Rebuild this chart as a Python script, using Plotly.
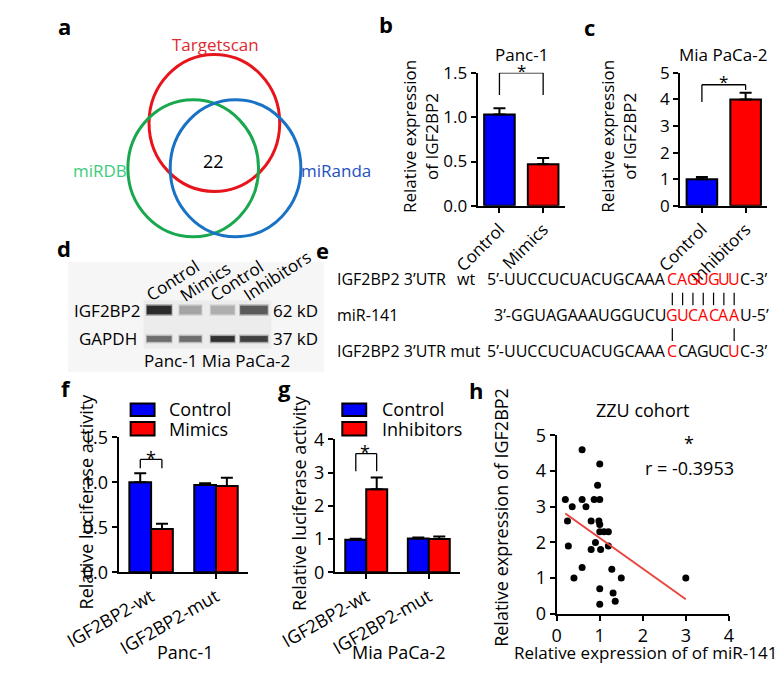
import numpy as np
import plotly.graph_objects as go

W, H = 778, 673
FONT = "Open Sans"
BLUE = "#0000ff"
RED = "#ff0000"

# ---------------- data ----------------
venn_sets = ["Targetscan", "miRDB", "miRanda"]
venn_colors_line = ["#e8141c", "#1aa84f", "#1a72c4"]
venn_colors_text = ["#e02a30", "#3ccb7c", "#2250c0"]
venn_common = "22"

b_categories = ["Control", "Mimics"]
b_values = [1.03, 0.47]
b_errors = [0.07, 0.07]

c_categories = ["Control", "Inhibitors"]
c_values = [1.00, 4.00]
c_errors = [0.08, 0.25]

blot_lanes = ["Control", "Mimics", "Control", "Inhibitors"]
blot_igf2bp2 = [0.95, 0.35, 0.30, 0.72]
blot_gapdh = [0.62, 0.62, 0.92, 0.85]

seq_names = ["IGF2BP2 3\u2019UTR", "miR-141", "IGF2BP2 3\u2019UTR mut"]
seq_pre = ["5\u2019-UUCCUCUACUGCAAA", "3\u2019-GGUAGAAAUGGUCU", "5\u2019-UUCCUCUACUGCAAA"]
seq_seed = ["CAGUGUU", "GUCACAA", "CCAGUCU"]
seq_seed_red = [[1, 1, 1, 1, 1, 1, 1], [1, 1, 1, 1, 1, 1, 1], [1, 0, 0, 0, 0, 0, 1]]
seq_post = ["C-3\u2019", "U-5\u2019", "C-3\u2019"]

f_groups = ["IGF2BP2-wt", "IGF2BP2-mut"]
f_control = [1.00, 0.97]
f_control_err = [0.10, 0.02]
f_mimics = [0.48, 0.96]
f_mimics_err = [0.06, 0.09]

g_groups = ["IGF2BP2-wt", "IGF2BP2-mut"]
g_control = [0.98, 1.02]
g_control_err = [0.03, 0.03]
g_inhibitors = [2.50, 1.00]
g_inhibitors_err = [0.35, 0.08]

h_mir141 = [0.20, 0.59, 1.00, 0.95, 0.59, 0.87, 1.00, 0.36, 0.68, 0.25,
            0.80, 0.98, 1.00, 1.00, 1.10, 1.20, 0.27, 0.90, 0.80, 1.02,
            1.20, 0.59, 1.28, 0.40, 1.50, 1.00, 1.31, 1.36, 1.00, 3.00]
h_igf2bp2 = [3.20, 4.60, 4.20, 3.60, 3.20, 3.20, 3.20, 3.00, 3.00, 2.60,
             2.60, 2.60, 2.50, 2.30, 2.30, 2.30, 1.90, 2.00, 1.80, 1.80,
             1.90, 1.30, 1.25, 1.00, 1.00, 0.70, 0.58, 0.35, 0.27, 1.00]
h_r = "-0.3953"


# ---------------- helpers ----------------
def PX(x):
    return x / W


def PY(y):
    return 1 - y / H


annotations = []
shapes = []


def ann(text, x, y, size=17, color="black", xa="center", ya="middle", angle=0):
    annotations.append(dict(text=text, x=PX(x), y=PY(y), xref="paper", yref="paper",
                            showarrow=False, xanchor=xa, yanchor=ya, textangle=angle,
                            font=dict(family=FONT, size=size, color=color)))


def rect(x0, y0, x1, y1, fill, opacity=1.0, line=None):
    shapes.append(dict(type="rect", xref="paper", yref="paper",
                       x0=PX(x0), x1=PX(x1), y0=PY(y1), y1=PY(y0),
                       fillcolor=fill, opacity=opacity,
                       line=dict(width=0) if line is None else line))


def seg(x0, y0, x1, y1, width=1.3, color="black", xref=None, yref=None):
    if xref:
        shapes.append(dict(type="line", xref=xref, yref=yref, x0=x0, x1=x1, y0=y0, y1=y1,
                           line=dict(color=color, width=width)))
    else:
        shapes.append(dict(type="line", xref="paper", yref="paper", x0=PX(x0), x1=PX(x1),
                           y0=PY(y0), y1=PY(y1), line=dict(color=color, width=width)))


def bracket(xa, ya, xl, xr, ytop, yl, yr):
    seg(xl, yl, xl, ytop, xref=xa, yref=ya)
    seg(xl, ytop, xr, ytop, xref=xa, yref=ya)
    seg(xr, yr, xr, ytop, xref=xa, yref=ya)


def axis_common(size):
    return dict(showline=True, linecolor="black", linewidth=2, ticks="outside",
                ticklen=5, tickwidth=2, tickcolor="black", showgrid=False,
                zeroline=False, tickfont=dict(family=FONT, size=size, color="black"),
                fixedrange=True)


def err(arr):
    return dict(type="data", symmetric=False, array=arr, arrayminus=[0] * len(arr),
                color="black", thickness=2, width=6)


traces = []

# ---------------- panel b ----------------
traces.append(go.Bar(x=b_categories, y=b_values, width=0.7,
                     marker=dict(color=[BLUE, RED], line=dict(color="black", width=2)),
                     error_y=err(b_errors), xaxis="x", yaxis="y", showlegend=False))
# ---------------- panel c ----------------
traces.append(go.Bar(x=c_categories, y=c_values, width=0.7,
                     marker=dict(color=[BLUE, RED], line=dict(color="black", width=2)),
                     error_y=err(c_errors), xaxis="x2", yaxis="y2", showlegend=False))
# ---------------- panel f ----------------
traces.append(go.Bar(x=f_groups, y=f_control, name="Control",
                     marker=dict(color=BLUE, line=dict(color="black", width=2)),
                     error_y=err(f_control_err), xaxis="x3", yaxis="y3", showlegend=False))
traces.append(go.Bar(x=f_groups, y=f_mimics, name="Mimics",
                     marker=dict(color=RED, line=dict(color="black", width=2)),
                     error_y=err(f_mimics_err), xaxis="x3", yaxis="y3", showlegend=False))
# ---------------- panel g ----------------
traces.append(go.Bar(x=g_groups, y=g_control, name="Control",
                     marker=dict(color=BLUE, line=dict(color="black", width=2)),
                     error_y=err(g_control_err), xaxis="x4", yaxis="y4", showlegend=False))
traces.append(go.Bar(x=g_groups, y=g_inhibitors, name="Inhibitors",
                     marker=dict(color=RED, line=dict(color="black", width=2)),
                     error_y=err(g_inhibitors_err), xaxis="x4", yaxis="y4", showlegend=False))
# ---------------- panel h ----------------
traces.append(go.Scatter(x=h_mir141, y=h_igf2bp2, mode="markers",
                         marker=dict(color="black", size=7), xaxis="x5", yaxis="y5",
                         showlegend=False))
slope, intercept = np.polyfit(h_mir141, h_igf2bp2, 1)
lx = [min(h_mir141), max(h_mir141)]
traces.append(go.Scatter(x=lx, y=[slope * v + intercept for v in lx], mode="lines",
                         line=dict(color="#e8453e", width=2), xaxis="x5", yaxis="y5",
                         showlegend=False))

fig = go.Figure(traces)

# ---------------- panel a : Venn ----------------
venn_geom = [(171, 114, 71), (148, 161, 71), (194, 161, 71)]
for (cx, cy, r), col in zip(venn_geom, venn_colors_line):
    shapes.append(dict(type="circle", xref="paper", yref="paper",
                       x0=PX(cx - r), x1=PX(cx + r), y0=PY(cy + r), y1=PY(cy - r),
                       line=dict(color=col, width=3)))
ann(venn_sets[0], 172, 33, color=venn_colors_text[0])
ann(venn_sets[1], 47, 163, color=venn_colors_text[1])
ann(venn_sets[2], 303, 163, color=venn_colors_text[2])
ann(venn_common, 170, 153, size=18)

# ---------------- panel d : Western blot ----------------
rect(12, 258, 290, 372, "#f6f6f6")
rect(94, 298, 233, 348, "#ececec")
lane_cx = [111, 145, 180, 214]
lane_w = [29, 26, 28, 32]
for i, (cx, w) in enumerate(zip(lane_cx, lane_w)):
    for (row_y, hgt, inten) in [(308, 9, blot_igf2bp2[i]), (338, 6, blot_gapdh[i])]:
        g = int(235 - 215 * inten)
        col = f"rgb({g},{g},{g})"
        rect(cx - w / 2, row_y - hgt / 2 - 1.5, cx + w / 2, row_y + hgt / 2 + 1.5, col, 0.35)
        rect(cx - w / 2 + 1, row_y - hgt / 2, cx + w / 2 - 1, row_y + hgt / 2, col, 0.9)
ann("IGF2BP2", 55, 308)
ann("GAPDH", 55, 338)
ann("62 kD", 233, 308, xa="left")
ann("37 kD", 233, 338, xa="left")
head_centers = [(125, 277), (161, 278), (195, 277), (239, 272)]
for lab, (x, y) in zip(blot_lanes, head_centers):
    ann(lab, x, y, angle=-33)
ann("Panc-1 Mia PaCa-2", 174, 360)

# ---------------- panel e : sequences ----------------
row_y = [276, 313, 350]
seed_x0 = 663
pitch = 11.2
SEQ = 16
for k in range(3):
    ann(seq_names[k], 302, row_y[k], size=SEQ, xa="left")
    ann(seq_pre[k], seed_x0 + 1, row_y[k], size=SEQ, xa="right")
    for i, ch in enumerate(seq_seed[k]):
        ann(ch, seed_x0 + pitch * (i + 0.5), row_y[k], size=SEQ,
            color=RED if seq_seed_red[k][i] else "black")
    ann(seq_post[k], seed_x0 + 7 * pitch - 1, row_y[k], size=SEQ, xa="left")
ann("wt", 433, row_y[0], size=SEQ, xa="left")
for i in range(7):
    xc = seed_x0 + pitch * (i + 0.5)
    seg(xc, 290, xc, 303, width=1.2)
    if seq_seed_red[2][i]:
        seg(xc, 327, xc, 340, width=1.2)

# ---------------- panel b/c decorations ----------------
ann("Panc-1", 505, 43)
ann("Relative expression<br>of IGF2BP2", 395, 128, angle=-90)
bracket("x", "y", 0, 1, 1.5, 1.25, 1.25)
ann("*", 505, 60)

ann("Mia PaCa-2", 724, 43)
ann("Relative expression<br>of IGF2BP2", 610, 128, angle=-90)
bracket("x2", "y2", 0, 1, 4.55, 3.9, 4.35)
ann("*", 724, 71)

# ---------------- panel f decorations ----------------
rect(80, 405, 106, 418, BLUE, line=dict(color="black", width=2))
rect(80, 424, 106, 438, RED, line=dict(color="black", width=2))
ann("Control", 120, 411, size=18, xa="left")
ann("Mimics", 120, 431, size=18, xa="left")
ann("Relative luciferase activity", 32, 506, size=18, angle=-90)
ann("Panc-1", 140, 663, size=18)
bracket("x3", "y3", -1 / 6, 1 / 6, 1.254, 1.157, 1.157)
ann("*", 102, 461, size=18)

# ---------------- panel g decorations ----------------
rect(310, 405, 336, 418, BLUE, line=dict(color="black", width=2))
rect(310, 424, 336, 438, RED, line=dict(color="black", width=2))
ann("Control", 351, 411, size=18, xa="left")
ann("Inhibitors", 351, 431, size=18, xa="left")
ann("Relative luciferase activity", 263, 508, size=18, angle=-90)
ann("Mia PaCa-2", 372, 663, size=18)
bracket("x4", "y4", -1 / 6, 1 / 6, 3.57, 3.04, 3.04)
ann("*", 335, 455, size=18)

# ---------------- panel h decorations ----------------
ann("ZZU cohort", 637, 412, size=18)
ann("*", 687, 446, size=18)
ann("r = " + h_r, 687, 472, size=18)
ann("Relative expression of IGF2BP2", 483, 523, size=18, angle=-90)
ann("Relative expression of of miR-141", 639, 663, size=17)

# ---------------- panel letters ----------------
for lab, x, y in [("a", 8, 13), ("b", 358, 11), ("c", 579, 15), ("d", 8, 244),
                  ("e", 289, 246), ("f", 10, 389), ("g", 247, 389), ("h", 455, 391)]:
    ann("<b>" + lab + "</b>", x, y, size=22)

# ---------------- layout ----------------
layout = dict(
    width=W, height=H, margin=dict(l=0, r=0, t=0, b=0),
    paper_bgcolor="white", plot_bgcolor="white",
    barmode="group", bargap=0.33, bargroupgap=0,
    showlegend=False, annotations=annotations, shapes=shapes,
    xaxis=dict(domain=[PX(457), PX(552)], anchor="y", type="category", range=[-0.5, 1.5],
               tickangle=-45, **axis_common(17)),
    yaxis=dict(domain=[PY(200), PY(62)], anchor="x", range=[0, 1.5], dtick=0.5,
               tickformat=".1f", **axis_common(17)),
    xaxis2=dict(domain=[PX(677), PX(772)], anchor="y2", type="category", range=[-0.5, 1.5],
                tickangle=-45, **axis_common(17)),
    yaxis2=dict(domain=[PY(200), PY(62)], anchor="x2", range=[0, 5], dtick=1,
                **axis_common(17)),
    xaxis3=dict(domain=[PX(67), PX(208)], anchor="y3", type="category", range=[-0.5, 1.5],
                tickangle=-30, **axis_common(18)),
    yaxis3=dict(domain=[PY(580), PY(440)], anchor="x3", range=[0, 1.5], dtick=0.5,
                tickformat=".1f", **axis_common(18)),
    xaxis4=dict(domain=[PX(302), PX(438)], anchor="y4", type="category", range=[-0.5, 1.5],
                tickangle=-30, **axis_common(18)),
    yaxis4=dict(domain=[PY(580), PY(442)], anchor="x4", range=[0, 4], dtick=1,
                **axis_common(18)),
    xaxis5=dict(domain=[PX(543), PX(730)], anchor="y5", range=[0, 4], dtick=1,
                **axis_common(18)),
    yaxis5=dict(domain=[PY(623), PY(438)], anchor="x5", range=[0, 5], dtick=1,
                **axis_common(18)),
)
fig.update_layout(**layout)
fig.write_html("out.html", config={"displayModeBar": False},
               post_script="document.body.style.margin='0px';document.body.style.overflow='hidden';")
